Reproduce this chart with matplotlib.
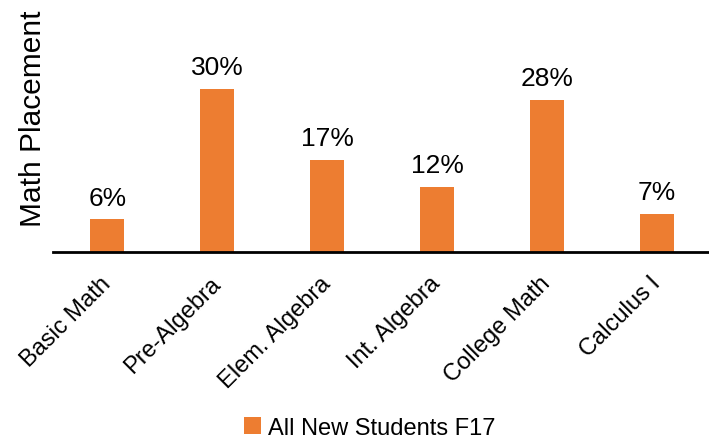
import matplotlib
matplotlib.use("Agg")
import matplotlib.pyplot as plt

plt.rcParams['font.family'] = ['Liberation Sans', 'DejaVu Sans']

categories = ["Basic Math", "Pre-Algebra", "Elem. Algebra", "Int. Algebra", "College Math", "Calculus I"]
values = [6, 30, 17, 12, 28, 7]
labels = ["6%", "30%", "17%", "12%", "28%", "7%"]
series_name = "All New Students F17"
color = "#ED7D31"

fig = plt.figure(figsize=(7.09, 4.39), dpi=100)
ax = fig.add_axes([52.5/709, 1-253/439, (712-52.5)/709, 190/439])
x = list(range(len(categories)))
bars = ax.bar(x, values, width=0.31, color=color, label=series_name, zorder=2)
ax.set_xlim(-0.5, 5.5)
ax.set_ylim(0, 35)
for xi, v, lab in zip(x, values, labels):
    ax.annotate(lab, (xi, v), xytext=(0, 7), textcoords="offset points",
                ha="center", va="bottom", fontsize=19, color="#000000", annotation_clip=False)
for s in ["top", "right", "left"]:
    ax.spines[s].set_visible(False)
ax.spines["bottom"].set_linewidth(2)
ax.spines["bottom"].set_color("#000000")
ax.set_yticks([])
ax.set_xticks(x)
ax.set_xticklabels(categories, rotation=45, ha="right", va="center", rotation_mode="anchor", fontsize=17)
ax.tick_params(axis="x", length=0, pad=20)
fig.text(33/709, 1-119/439, "Math Placement", rotation=90, ha="center", va="center", fontsize=21.5)
fig.legend(handles=[bars], labels=[series_name], loc="center", bbox_to_anchor=(370/709, 1-429/439),
           frameon=False, fontsize=17, handlelength=0.7, handleheight=0.7, handletextpad=0.3)
fig.savefig("out.png", dpi=100)
